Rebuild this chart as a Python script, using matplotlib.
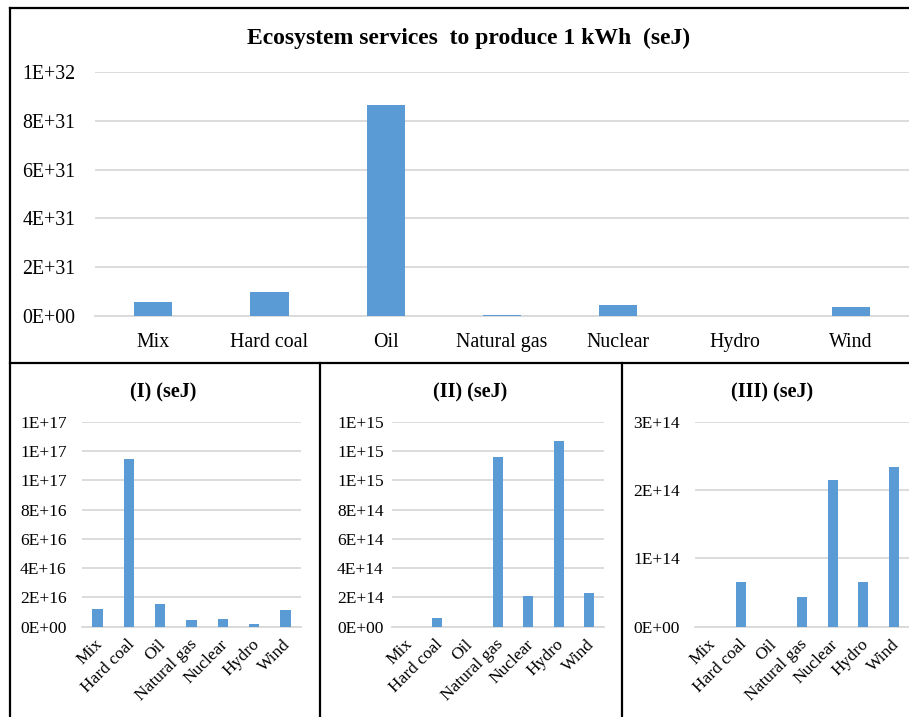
import numpy as np
import matplotlib
matplotlib.use('Agg')
import matplotlib.pyplot as plt
from matplotlib.ticker import FuncFormatter
from matplotlib.lines import Line2D
from matplotlib.transforms import ScaledTranslation

plt.rcParams['font.family'] = ['Liberation Serif', 'DejaVu Serif']

categories = ['Mix', 'Hard coal', 'Oil', 'Natural gas', 'Nuclear', 'Hydro', 'Wind']

# seJ per kWh, total and the three component groups
total_sej = [5.9e30, 9.7e30, 8.64e31, 4e29, 4.5e30, 5e27, 3.6e30]
group_i = [1.23e16, 1.143e17, 1.57e16, 0.43e16, 0.5e16, 0.2e16, 1.14e16]
group_ii = [0, 6.1e13, 0, 1.157e15, 2.09e14, 1.266e15, 2.32e14]
group_iii = [0, 6.6e13, 0, 4.3e13, 2.14e14, 6.6e13, 2.33e14]

bar_color = '#5B9BD5'
grid_color = '#D9D9D9'
W, H = 909, 717

fig = plt.figure(figsize=(W / 100, H / 100), dpi=100)

def px_axes(x0, y0, x1, y1):
    # axes from pixel box (top-left origin)
    return fig.add_axes([x0 / W, 1 - y1 / H, (x1 - x0) / W, (y1 - y0) / H])

def style(ax, values, top, step, fs, pad, rotate):
    x = np.arange(len(categories))
    ax.bar(x, values, width=0.33, color=bar_color, zorder=3)
    ax.set_xlim(-0.5, len(categories) - 0.5)
    ax.set_ylim(0, top)
    ax.set_yticks(np.arange(0, top + step / 2, step))
    ax.yaxis.set_major_formatter(FuncFormatter(lambda v, p: f'{v:.0E}'))
    ax.yaxis.grid(True, color=grid_color, lw=1.3, zorder=0)
    for s in ['left', 'right', 'top']:
        ax.spines[s].set_visible(False)
    ax.spines['bottom'].set_color(grid_color)
    ax.spines['bottom'].set_linewidth(1.3)
    ax.tick_params(length=0, labelsize=fs)
    ax.tick_params(axis='y', pad=pad)
    ax.set_xticks(x)
    if rotate:
        ax.set_xticklabels(categories, rotation=45, ha='right', va='center',
                           rotation_mode='anchor', fontsize=12.5)
        ax.tick_params(axis='x', pad=11)
        shift = ScaledTranslation(3 / 100, 0, fig.dpi_scale_trans)
        for lab in ax.get_xticklabels():
            lab.set_transform(lab.get_transform() + shift)
    else:
        ax.set_xticklabels(categories, fontsize=fs)
        ax.tick_params(axis='x', pad=12)

# main panel
ax0 = px_axes(95, 72, 909, 316)
style(ax0, total_sej, 1e32, 2e31, 14.3, 14, False)
fig.text(469 / W, 1 - 38 / H, 'Ecosystem services  to produce 1 kWh  (seJ)',
         ha='center', va='center', fontsize=17, fontweight='bold')

# lower panels
ax1 = px_axes(82, 421.7, 301, 626.7)
style(ax1, group_i, 1.4e17, 2e16, 12.5, 11, True)
ax2 = px_axes(392, 421.7, 604, 626.7)
style(ax2, group_ii, 1.4e15, 2e14, 12.5, 6, True)
ax3 = px_axes(695, 421.7, 909, 626.7)
style(ax3, group_iii, 3e14, 1e14, 12.5, 11, True)

for cx, label in [(163, '(I) (seJ)'), (470, '(II) (seJ)'), (772, '(III) (seJ)')]:
    fig.text(cx / W, 1 - 392 / H, label, ha='center', va='center',
             fontsize=14.5, fontweight='bold')

# panel frames
def frame(x0, y0, x1, y1):
    fig.add_artist(Line2D([x0 / W, x1 / W], [1 - y0 / H, 1 - y1 / H],
                          color='black', lw=1.6))

frame(10, 8, 909, 8)
frame(10, 8, 10, 717)
frame(10, 362.5, 909, 362.5)
frame(320, 362.5, 320, 717)
frame(622, 362.5, 622, 717)

fig.savefig('out.png', dpi=100, facecolor='white')
